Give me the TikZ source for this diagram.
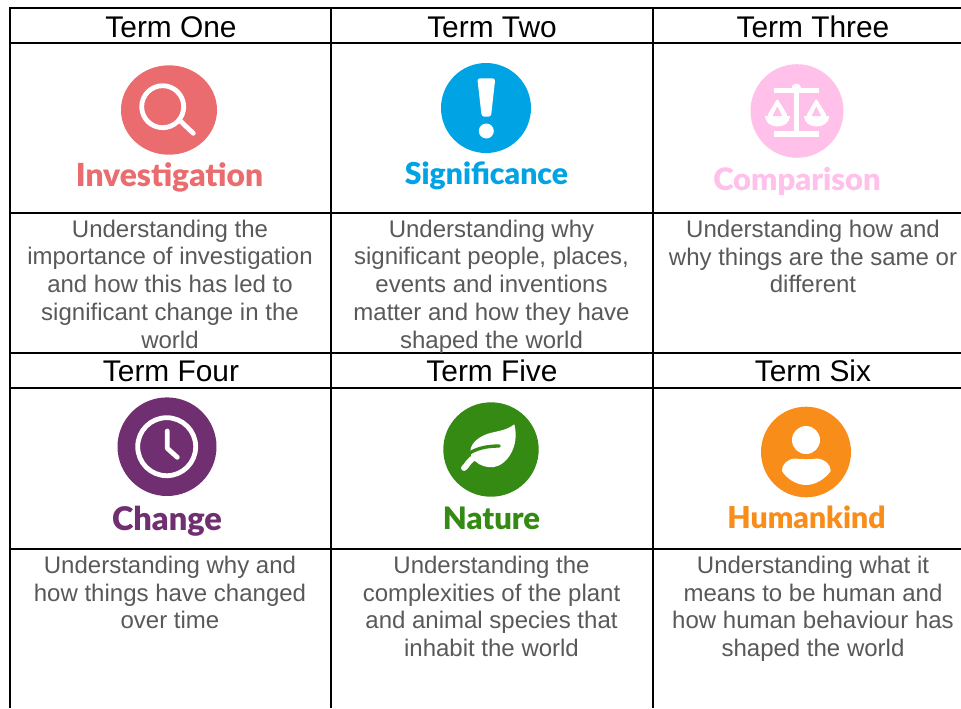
\documentclass[tikz,border=0pt]{standalone}
\usepackage{fontspec}
\setmainfont{Liberation Sans}
\newfontfamily\lato{Lato}[BoldFont={Lato Black}]
\definecolor{cred}{HTML}{EA6C6F}
\definecolor{cblue}{HTML}{00A3E4}
\definecolor{cpink}{HTML}{FFC1E9}
\definecolor{cpurple}{HTML}{702F70}
\definecolor{cgreen}{HTML}{358A14}
\definecolor{corange}{HTML}{F98D1A}
\definecolor{cdesc}{HTML}{595959}
\tikzset{
  x=0.75pt,y=-0.75pt,
  grid/.style={line width=1.5pt,black},
  term/.style={anchor=base,inner sep=0,font=\fontsize{22.4pt}{24pt}\selectfont,text=black},
  desc/.style={anchor=base,inner sep=0,align=center,text=cdesc,font=\fontsize{18pt}{20.8pt}\selectfont},
  lab/.style={anchor=base,inner sep=0,font=\fontsize{#1pt}{26pt}\lato\bfseries},
  ic/.style={white,line width=3.6pt,line cap=round,line join=round},
}
\begin{document}
\begin{tikzpicture}
\useasboundingbox (0,0) rectangle (961,708);
\fill[white] (0,0) rectangle (961,708);
% grid
\draw[grid] (9,8) -- (961,8);
\draw[grid] (10,42.5) -- (961,42.5);
\draw[grid] (10,213) -- (961,213);
\draw[grid] (10,353.3) -- (961,353.3);
\draw[grid] (10,387.7) -- (961,387.7);
\draw[grid] (10,549) -- (961,549);
\draw[grid] (10,8) -- (10,708);
\draw[grid] (331,8) -- (331,708);
\draw[grid] (653,8) -- (653,708);
% headers
\node[term] (h1) at (171,37) {Term One};
\node[term] (h2) at (492,37) {Term Two};
\node[term] (h3) at (813,37) {Term Three};
\node[term] (h4) at (171,381) {Term Four};
\node[term] (h5) at (492,381) {Term Five};
\node[term] (h6) at (813,381) {Term Six};
% icons
\fill[cred] (169,110) ellipse [x radius=48,y radius=44.7];
\draw[ic] (162.7,106.7) circle (21);
\draw[ic] (180,120.7) -- (193.3,133.3);
\node[lab=23.8,text=cred] (l1) at (169.5,186) {Investigation};

\fill[cblue] (486,108) ellipse [x radius=45,y radius=45];
\fill[white,rounded corners=2pt] (477.3,78.3) -- (495.3,78.3) -- (491,116.7) -- (481.7,116.7) -- cycle;
\fill[white] (486.3,131) circle (7.5);
\node[lab=22.6,text=cblue] (l2) at (486.5,184) {Significance};

\fill[cpink] (797,111) ellipse [x radius=46.5,y radius=46.8];
\fill[white] (774,87.7) rectangle (819.3,93.3);
\fill[white] (796.3,88.6) circle (5);
\fill[white] (794.3,90) rectangle (798.7,132);
\fill[white] (774,131) rectangle (819.3,136.7);
\fill[white,rounded corners=1.5pt] (777.3,98.5) -- (767,116) -- (788,116) -- cycle;
\fill[white,rounded corners=1.5pt] (816.3,98.5) -- (806,116) -- (827,116) -- cycle;
\fill[white] (765,116) .. controls (765,122.5) and (771,126.5) .. (777.5,126.5) .. controls (784,126.5) and (790,122.5) .. (790,116) -- cycle;
\fill[white] (804,116) .. controls (804,122.5) and (810,126.5) .. (816.5,126.5) .. controls (823,126.5) and (829.3,122.5) .. (829.3,116) -- cycle;
\fill[cpink] (777.3,106.5) -- (772.5,116) -- (782.2,116) -- cycle;
\fill[cpink] (816.3,106.5) -- (811.5,116) -- (821.2,116) -- cycle;
\node[lab=23.2,text=cpink] (l3) at (797,190) {Comparison};

\fill[cpurple] (167,446.7) ellipse [x radius=49.5,y radius=49.3];
\draw[ic] (166.7,446.7) circle (29);
\draw[ic] (167.3,431) -- (167.3,448.3) -- (177.3,457.3);
\node[lab=24.4,text=cpurple] (l4) at (167,530) {Change};

\fill[cgreen] (491,449.5) ellipse [x radius=47.7,y radius=47.2];
\fill[white] (514.3,424.3) .. controls (506,431) and (496,431) .. (487,434)
  .. controls (476,438) and (469,446) .. (470.7,453)
  .. controls (471,458) and (473,460) .. (475,461)
  .. controls (480,466) and (488,468) .. (494,467)
  .. controls (507,465) and (520,446) .. (514.3,424.3) -- cycle;
\draw[cgreen,line width=2.5pt,line cap=round] (469,453.5) .. controls (477,448) and (488,446) .. (499.3,446);
\draw[white,line width=4.4pt,line cap=round] (464,468) .. controls (467,466) and (469,459) .. (476,457);
\node[lab=23.2,text=cgreen] (l5) at (491.5,529) {Nature};

\fill[corange] (806,452) ellipse [x radius=45,y radius=45.3];
\fill[white] (806,440) circle (14);
\fill[white] (795,458.5) .. controls (800,459.5) and (812,459.5) .. (816.7,458.5)
  .. controls (825,459) and (831,465) .. (830.7,471)
  .. controls (826,478) and (816,485) .. (806,485)
  .. controls (796,485) and (786,478) .. (782,471)
  .. controls (781.5,465) and (787,459) .. (795,458.5) -- cycle;
\node[lab=22.6,text=corange] (l6) at (806.5,528) {Humankind};
% descriptions (anchored at the baseline of the last line)
\node[desc] (d1) at (170,348) {Understanding the\\importance of investigation\\and how this has led to\\significant change in the\\world};
\node[desc] (d2) at (491.5,348) {Understanding why\\significant people, places,\\events and inventions\\matter and how they have\\shaped the world};
\node[desc] (d3) at (813,292.9) {Understanding how and\\why things are the same or\\different};
\node[desc] (d4) at (170,628.9) {Understanding why and\\how things have changed\\over time};
\node[desc] (d5) at (491.5,656.5) {Understanding the\\complexities of the plant\\and animal species that\\inhabit the world};
\node[desc] (d6) at (813,656.5) {Understanding what it\\means to be human and\\how human behaviour has\\shaped the world};
\end{tikzpicture}
\end{document}
